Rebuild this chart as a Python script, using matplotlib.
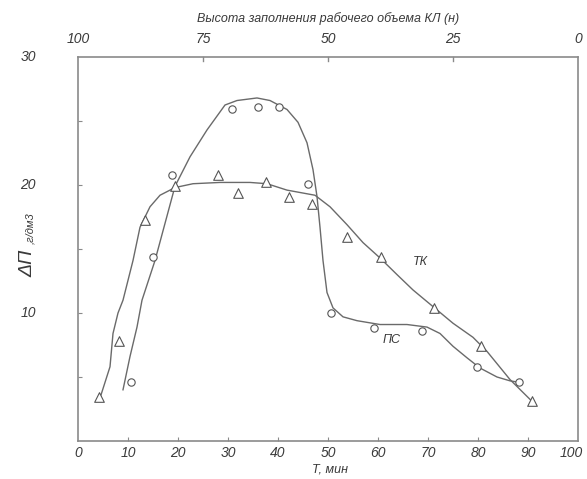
import numpy as np
import matplotlib
matplotlib.use("Agg")
import matplotlib.pyplot as plt

# ---------------------------------------------------------------------------
# Data
# ---------------------------------------------------------------------------
# ПС: measured points (circles) and drawn curve
ps_t = [10.5, 15.0, 18.8, 30.8, 36.0, 40.2, 46.0, 50.6, 59.2, 68.8, 79.8, 88.2]
ps_y = [4.6, 14.4, 20.8, 25.9, 26.1, 26.1, 20.1, 10.0, 8.8, 8.6, 5.8, 4.6]
ps_curve_t = [9.0, 10.4, 11.8, 12.8, 15.4, 19.4, 22.4, 25.8, 29.4, 31.8, 35.8,
              38.4, 41.8, 44.0, 45.8, 47.0, 47.8, 48.4, 49.0, 49.8, 51.0, 53.0,
              55.8, 60.4, 65.8, 69.8, 72.4, 75.0, 77.8, 80.4, 83.8, 86.4, 88.0]
ps_curve_y = [4.0, 6.6, 8.9, 11.0, 14.1, 19.9, 22.2, 24.3, 26.25, 26.6, 26.8,
              26.6, 25.9, 24.9, 23.3, 21.2, 19.1, 16.7, 14.1, 11.6, 10.4, 9.7,
              9.4, 9.1, 9.1, 8.9, 8.4, 7.4, 6.5, 5.7, 5.0, 4.7, 4.6]

# ТК: measured points (triangles) and drawn curve
tk_t = [4.2, 8.2, 13.4, 19.4, 28.0, 32.0, 37.6, 42.2, 46.8, 53.8, 60.6, 71.2,
        80.6, 90.8]
tk_y = [3.4, 7.8, 17.3, 19.9, 20.8, 19.4, 20.2, 19.1, 18.5, 15.9, 14.4, 10.4,
        7.4, 3.1]
tk_curve_t = [4.6, 6.4, 7.0, 8.0, 9.0, 11.0, 12.4, 14.4, 16.4, 19.4, 23.0,
              28.4, 34.4, 37.8, 41.8, 47.4, 50.4, 53.8, 57.0, 60.4, 63.8,
              67.0, 71.0, 75.0, 79.0, 81.8, 86.4, 90.8]
tk_curve_y = [3.6, 5.8, 8.4, 10.0, 11.0, 14.1, 16.7, 18.3, 19.2, 19.8, 20.1,
              20.2, 20.2, 20.1, 19.6, 19.2, 18.3, 16.9, 15.5, 14.3, 13.0,
              11.8, 10.5, 9.2, 8.1, 7.0, 4.8, 3.1]

x_ticks = [10, 20, 30, 40, 50, 60, 70, 80, 90]
x_ticklabels = ["0", "10", "20", "30", "40", "50", "60", "70", "80", "90", "100"]
top_ticklabels = ["100", "75", "50", "25", "0"]
y_ticks = [5, 10, 15, 20, 25]

INK = "#3a3a3a"
LINE = "#6a6a6a"
SPINE = "#8a8a8a"

plt.rcParams["font.family"] = ["Liberation Sans", "DejaVu Sans"]
plt.rcParams["font.style"] = "italic"

W, H = 587, 479
fig = plt.figure(figsize=(W / 100, H / 100), dpi=100)
ax = fig.add_axes([78 / W, (H - 441) / H, 500 / W, 384 / H])

ax.plot(ps_curve_t, ps_curve_y, color=LINE, lw=1.0, zorder=2)
ax.plot(tk_curve_t, tk_curve_y, color=LINE, lw=1.0, zorder=2)
ax.scatter(ps_t, ps_y, marker="o", s=28, facecolor="white",
           edgecolor="#555555", linewidth=0.8, zorder=3)
ax.scatter(tk_t, tk_y, marker="^", s=48, facecolor="white",
           edgecolor="#555555", linewidth=0.8, zorder=3)

ax.text(68.4, 14.0, "ТК", color=INK, fontsize=9, ha="center", va="center")
ax.text(62.8, 7.9, "ПС", color=INK, fontsize=9, ha="center", va="center")

ax.set_xlim(0, 100)
ax.set_ylim(0, 30)
for s in ax.spines.values():
    s.set_color(SPINE)
    s.set_linewidth(1.2)

# bottom axis: inward ticks, labels drawn as text so 0 and 100 sit at the edges
ax.set_xticks(x_ticks)
ax.set_xticklabels([])
ax.tick_params(axis="x", direction="in", length=3, color=SPINE)
for i, lab in enumerate(x_ticklabels):
    xpos = min(i * 10, 98.6)   # keep "100" inside the canvas
    ax.text(xpos, -0.9, lab, ha="center", va="center",
            fontsize=10, color=INK, clip_on=False)

ax.set_yticks(y_ticks)
ax.set_yticklabels([])
ax.tick_params(axis="y", direction="in", length=3, color=SPINE)
for v in (10, 20, 30):
    ax.text(-10, v, str(v), ha="center", va="center", fontsize=10,
            color=INK, clip_on=False)

# top axis: filling height, reversed scale
for i, lab in enumerate(top_ticklabels):
    ax.text(i * 25, 31.4, lab, ha="center", va="center", fontsize=10,
            color=INK, clip_on=False)
for v in (25, 50, 75):
    ax.plot([v, v], [30, 29.7], color=SPINE, lw=1.0, clip_on=False)

fig.text(328 / W, 1 - 19 / H, "Высота заполнения рабочего объема КЛ (н)",
         ha="center", va="center", fontsize=9, color=INK)
fig.text(330 / W, 1 - 470 / H, "T, мин", ha="center", va="center",
         fontsize=9, color=INK)

# y label: big ΔП, small ",г/дм3"
fig.text(28 / W, 1 - 263 / H, "ΔП", rotation=90, ha="center", va="center",
         fontsize=14, color=INK)
fig.text(30 / W, 1 - 228 / H, ",г/дм3", rotation=90, ha="center",
         va="center", fontsize=8, color=INK)

fig.savefig("out.png", dpi=100, facecolor="white")
